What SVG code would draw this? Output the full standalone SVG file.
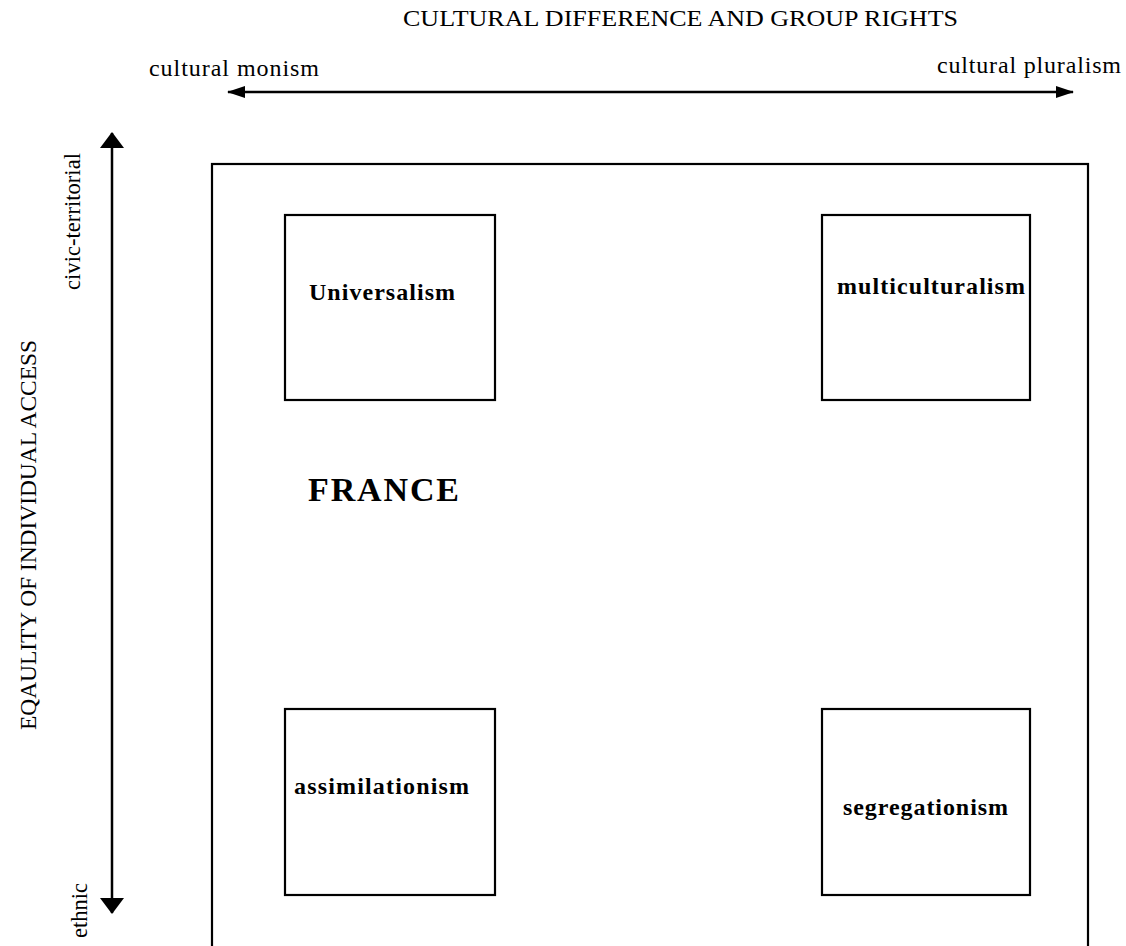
<svg xmlns="http://www.w3.org/2000/svg" width="1126" height="946" viewBox="0 0 1126 946">
<defs>
<style>
.t{font-family:"Liberation Serif","Times New Roman",serif;fill:#000}
.b{font-family:"Liberation Serif","Times New Roman",serif;font-weight:bold;fill:#000}
.box{fill:#fff;stroke:#000;stroke-width:2.2}
.ax{stroke:#000;stroke-width:2.5;fill:none}
</style>
<marker id="ahh" viewBox="0 0 18 12" refX="17" refY="6" markerWidth="18" markerHeight="12" markerUnits="userSpaceOnUse" orient="auto-start-reverse">
<path d="M0,0 L18,6 L0,12 Z" fill="#000"/>
</marker>
<marker id="ahv" viewBox="0 0 16 24" refX="15" refY="12" markerWidth="16" markerHeight="24" markerUnits="userSpaceOnUse" orient="auto-start-reverse">
<path d="M0,0 L16,12 L0,24 Z" fill="#000"/>
</marker>
</defs>
<rect width="1126" height="946" fill="#fff"/>
<g id="frame">
<rect class="box" x="212" y="164" width="876" height="800"/>
</g>
<g id="connectors">
<line class="ax" x1="228" y1="92" x2="1073" y2="92" marker-start="url(#ahh)" marker-end="url(#ahh)"/>
<line class="ax" x1="112" y1="133" x2="112" y2="913" marker-start="url(#ahv)" marker-end="url(#ahv)"/>
</g>
<g id="labels">
<text class="t" x="403" y="26" font-size="24" textLength="555" lengthAdjust="spacingAndGlyphs">CULTURAL DIFFERENCE AND GROUP RIGHTS</text>
<text class="t" x="149" y="76" font-size="24" textLength="170" lengthAdjust="spacing">cultural monism</text>
<text class="t" x="937" y="73" font-size="24" textLength="184" lengthAdjust="spacing">cultural pluralism</text>
<text class="t" transform="translate(80,290) rotate(-90)" font-size="24" textLength="137" lengthAdjust="spacingAndGlyphs">civic-territorial</text>
<text class="t" transform="translate(36,730) rotate(-90)" font-size="24" textLength="390" lengthAdjust="spacingAndGlyphs">EQAULITY OF INDIVIDUAL ACCESS</text>
<text class="t" transform="translate(87,938) rotate(-90)" font-size="24" textLength="55" lengthAdjust="spacingAndGlyphs">ethnic</text>
<text class="b" x="308" y="501" font-size="34" textLength="151" lengthAdjust="spacing">FRANCE</text>
</g>
<g id="universalism">
<rect class="box" x="285" y="215" width="210" height="185"/>
<text class="b" x="309" y="300" font-size="24" textLength="146" lengthAdjust="spacing">Universalism</text>
</g>
<g id="multiculturalism">
<rect class="box" x="822" y="215" width="208" height="185"/>
<text class="b" x="837" y="294" font-size="24" textLength="188" lengthAdjust="spacing">multiculturalism</text>
</g>
<g id="assimilationism">
<rect class="box" x="285" y="709" width="210" height="186"/>
<text class="b" x="294" y="794" font-size="24" textLength="175" lengthAdjust="spacing">assimilationism</text>
</g>
<g id="segregationism">
<rect class="box" x="822" y="709" width="208" height="186"/>
<text class="b" x="843" y="815" font-size="24" textLength="165" lengthAdjust="spacing">segregationism</text>
</g>
</svg>
